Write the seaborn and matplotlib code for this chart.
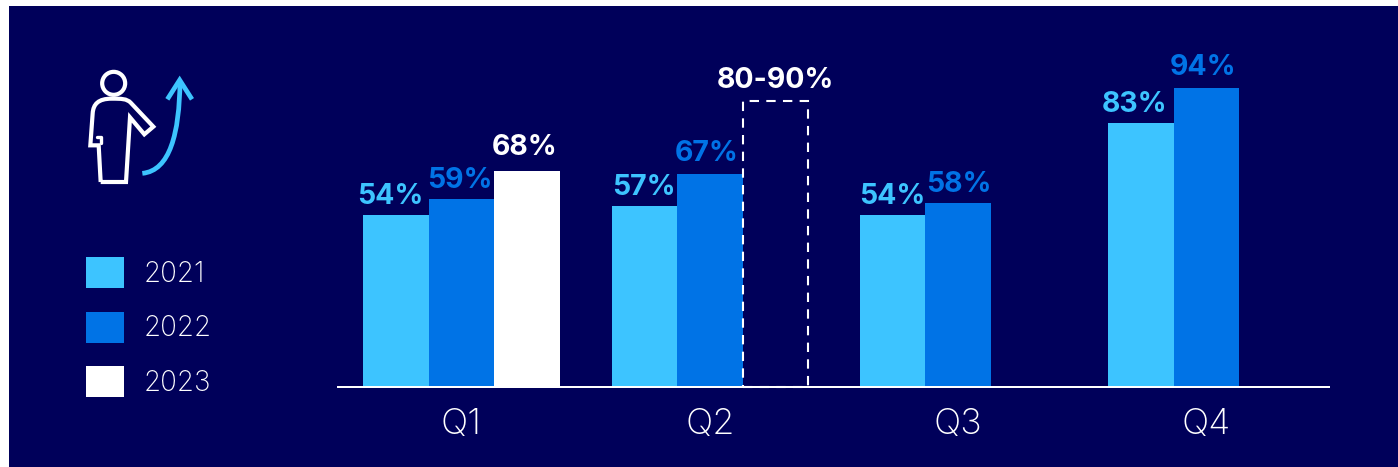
import numpy as np
import pandas as pd
import matplotlib
matplotlib.use("Agg")
import matplotlib.pyplot as plt
from matplotlib.patches import Patch, Rectangle, Circle, PathPatch
from matplotlib.path import Path
import seaborn as sns

quarters = ["Q1", "Q2", "Q3", "Q4"]
years = ["2021", "2022", "2023"]
v2021 = [54, 57, 54, 83]
v2022 = [59, 67, 58, 94]
v2023 = [68, 90, np.nan, np.nan]
labels_2021 = ["54%", "57%", "54%", "83%"]
labels_2022 = ["59%", "67%", "58%", "94%"]
labels_2023 = ["68%", "80-90%", "", ""]
label_shift_2021 = [-6, 0, 0, -6]
label_shift_2022 = [-2, -3, 1, -3]
label_shift_2023 = [-2, 0, 0, 0]
label_lift_2021 = [0, 0, 0, 0]
label_lift_2022 = [1, 2, 0, 2]
label_lift_2023 = [5, 2, 0, 0]

NAVY = "#00005A"
LIGHT = "#3DC4FF"
MID = "#0073E6"
WHITE = "#FFFFFF"
palette = dict(zip(years, [LIGHT, MID, WHITE]))

sns.set_theme(style="white")
plt.rcParams["font.family"] = ["Inter", "DejaVu Sans"]

W, H = 1398, 467
fig = plt.figure(figsize=(W / 100, H / 100), dpi=100, facecolor="white")
fig.add_artist(Rectangle((9 / W, 0), (W - 9) / W, (H - 6) / H, transform=fig.transFigure,
                         facecolor=NAVY, edgecolor="none", zorder=-10))

ax = fig.add_axes([337 / W, (H - 387) / H, (1330 - 337) / W, 381 / H])
ax.patch.set_alpha(0)

df = pd.DataFrame({
    "quarter": quarters * 3,
    "year": np.repeat(years, 4),
    "value": v2021 + v2022 + v2023,
})
sns.barplot(data=df, x="quarter", y="value", hue="year", hue_order=years, order=quarters,
            palette=palette, width=0.791, gap=0, saturation=1, errorbar=None,
            linewidth=0, legend=False, ax=ax)

ax.set_xlim(-0.5014, 3.4978)
ax.set_ylim(0, 381 / 3.18)
ax.set_xlabel("")
ax.set_ylabel("")
ax.set_yticks([])
ax.tick_params(axis="x", length=0, pad=15, labelsize=26, labelcolor=WHITE)
for lab in ax.get_xticklabels():
    lab.set_fontweight("light")
for s in ["top", "left", "right"]:
    ax.spines[s].set_visible(False)
ax.spines["bottom"].set_color(WHITE)
ax.spines["bottom"].set_linewidth(1.44)
ax.spines["bottom"].set_capstyle("butt")
ax.spines["bottom"].set_zorder(5)

target = ax.containers[2][1]
target.set_facecolor("none")
target.set_edgecolor(WHITE)
target.set_linewidth(1.5)
target.set_linestyle((0, (4.5, 3.5)))
target.set_clip_on(False)

for cont, labs, shifts, lifts, col in zip(ax.containers,
                                          [labels_2021, labels_2022, labels_2023],
                                          [label_shift_2021, label_shift_2022, label_shift_2023],
                                          [label_lift_2021, label_lift_2022, label_lift_2023],
                                          [LIGHT, MID, WHITE]):
    for bar, lab, sh, lf in zip(cont, labs, shifts, lifts):
        if not lab:
            continue
        ax.annotate(lab, (bar.get_x() + bar.get_width() / 2, bar.get_height()),
                    xytext=(sh * 0.72, 3.5 + lf * 0.72), textcoords="offset points",
                    ha="center", va="bottom", color=col, fontsize=20.5, fontweight="bold",
                    annotation_clip=False)

handles = [Patch(facecolor=palette[y], edgecolor="none", label=y) for y in years]
fs = 20
px = fs * 100 / 72
hh = (31 / px - 0.245) / 0.65
leg = fig.legend(handles=handles, loc="upper left",
                 bbox_to_anchor=(86 / W, 1 - 257 / H), frameon=False,
                 handlelength=38 / px, handleheight=hh, labelspacing=(54.5 - 31) / px,
                 handletextpad=20 / px, borderpad=0, borderaxespad=0, labelcolor=WHITE,
                 prop={"size": fs, "weight": "light"})

icon = fig.add_axes([0, 0, 1, 1], zorder=3)
icon.set_xlim(0, W)
icon.set_ylim(H, 0)
icon.axis("off")
z = lambda x, y: (x / 3, y / 3)
icon.add_patch(Circle(z(341, 250), 11.5, fill=False, edgecolor=WHITE, linewidth=3))
M, L, C4 = Path.MOVETO, Path.LINETO, Path.CURVE4
body = [(z(302, 546), M), (z(378, 546), L), (z(390, 352), L), (z(433, 403), L), (z(460, 380), L),
        (z(392, 308), L), (z(380, 296), C4), (z(365, 296), C4), (z(335, 296), L),
        (z(295, 296), C4), (z(280, 312), C4), (z(278, 340), L), (z(271, 436), L),
        (z(296, 436), L), (z(302, 546), L)]
icon.add_patch(PathPatch(Path([p for p, _ in body], [c for _, c in body]), fill=False,
                         edgecolor=WHITE, linewidth=3, joinstyle="miter"))
icon.plot(*zip(z(292, 412), z(303, 412), z(303, 430)), color=WHITE, lw=2.4)
curve = Path([z(427, 520), z(510, 512), z(538, 400), z(540, 245)], [M, C4, C4, C4])
icon.add_patch(PathPatch(curve, fill=False, edgecolor=LIGHT, linewidth=3.4, capstyle="butt"))
icon.plot(*zip(z(502, 298), z(539, 240), z(576, 298)), color=LIGHT, lw=3.4,
          solid_joinstyle="miter", solid_capstyle="butt")

fig.savefig("out.png", dpi=100, facecolor="white")
